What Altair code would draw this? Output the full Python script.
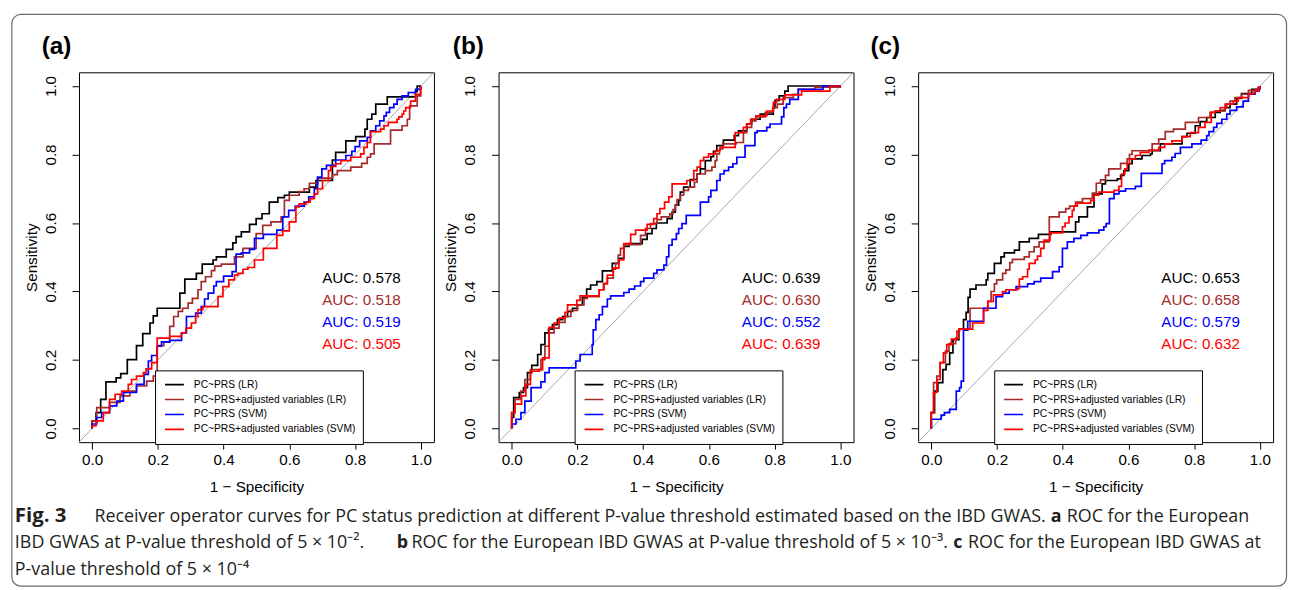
import altair as alt
import pandas as pd

# ---------------- data ----------------
SERIES = ["PC~PRS (LR)", "PC~PRS+adjusted variables (LR)",
          "PC~PRS (SVM)", "PC~PRS+adjusted variables (SVM)"]
COLORS = ["#000000", "#A52A2A", "#0000FF", "#FF0000"]

# ROC step corners: (1 - specificity, sensitivity)
A_LR = [(0, 0), (0, .022), (.012, .046), (.026, .085), (.042, .136), (.073, .148), (.087, .160), (.107, .201),
        (.135, .242), (.154, .277), (.176, .308), (.186, .329), (.198, .351), (.267, .395), (.282, .436),
        (.317, .453), (.335, .480), (.368, .492), (.378, .501), (.408, .523), (.428, .542), (.438, .560),
        (.454, .574), (.479, .596), (.499, .613), (.517, .627), (.539, .661), (.565, .674), (.585, .681),
        (.600, .690), (.661, .705), (.681, .724), (.731, .784), (.741, .806), (.772, .840), (.802, .852),
        (.830, .874), (.837, .903), (.851, .918), (.863, .947), (.898, .968), (.984, .984), (.989, 1.0), (1.0, 1.0)]
A_LR_ADJ = [(0, 0), (0, .022), (.014, .061), (.053, .076), (.085, .095), (.115, .109), (.135, .124), (.166, .138),
            (.186, .153), (.198, .242), (.218, .252), (.236, .298), (.248, .327), (.262, .342), (.275, .351),
            (.292, .366), (.305, .380), (.322, .405), (.332, .429), (.345, .443), (.363, .461), (.373, .474),
            (.393, .480), (.433, .501), (.459, .526), (.499, .569), (.519, .593), (.544, .603), (.575, .618),
            (.585, .666), (.600, .681), (.630, .692), (.645, .700), (.661, .716), (.686, .731), (.731, .741),
            (.746, .753), (.787, .763), (.820, .774), (.837, .792), (.847, .802), (.858, .831), (.908, .871),
            (.943, .884), (.959, .903), (.966, .942), (.989, .971), (1.0, 1.0)]
A_SVM = [(0, 0), (0, .013), (.014, .032), (.029, .046), (.053, .066), (.075, .080), (.095, .105), (.135, .129),
         (.158, .158), (.171, .197), (.181, .213), (.198, .240), (.211, .253), (.236, .257), (.272, .279),
         (.287, .327), (.315, .337), (.332, .356), (.342, .378), (.353, .395), (.370, .416), (.378, .429),
         (.400, .445), (.426, .458), (.438, .509), (.454, .513), (.479, .523), (.494, .555), (.521, .567),
         (.562, .579), (.580, .618), (.598, .637), (.618, .649), (.645, .661), (.659, .676), (.676, .700),
         (.686, .734), (.699, .758), (.713, .768), (.741, .784), (.772, .797), (.790, .809), (.800, .823),
         (.814, .840), (.837, .850), (.847, .869), (.863, .884), (.875, .898), (.888, .913), (.895, .923),
         (.905, .937), (.918, .947), (.928, .961), (.943, .971), (.962, .981), (.984, .990), (.999, 1.0), (1.0, 1.0)]
A_SVM_ADJ = [(0, 0), (0, .008), (.012, .022), (.034, .046), (.053, .085), (.070, .100), (.090, .109), (.110, .129),
             (.120, .143), (.135, .153), (.156, .163), (.164, .174), (.181, .192), (.198, .264), (.236, .269),
             (.272, .279), (.285, .293), (.302, .308), (.315, .327), (.322, .347), (.337, .356), (.383, .385),
             (.398, .414), (.416, .434), (.433, .448), (.443, .453), (.459, .465), (.474, .470), (.494, .492),
             (.521, .526), (.562, .564), (.580, .577), (.600, .603), (.620, .647), (.630, .656), (.651, .661),
             (.663, .671), (.676, .685), (.686, .700), (.701, .724), (.719, .753), (.726, .765), (.741, .773),
             (.757, .782), (.787, .792), (.817, .802), (.827, .821), (.837, .835), (.847, .867), (.878, .874),
             (.888, .884), (.901, .894), (.928, .903), (.933, .910), (.943, .918), (.948, .927), (.954, .937),
             (.969, .956), (.984, .976), (.999, .995), (1.0, 1.0)]

B_LR = [(0, 0), (0, .032), (.006, .090), (.023, .105), (.036, .119), (.048, .163), (.061, .184), (.079, .216),
        (.089, .245), (.101, .279), (.112, .290), (.124, .303), (.139, .318), (.155, .327), (.170, .342),
        (.185, .351), (.200, .361), (.215, .383), (.228, .407), (.240, .419), (.259, .429), (.276, .460),
        (.306, .482), (.326, .497), (.341, .532), (.357, .540), (.397, .552), (.412, .569), (.427, .584),
        (.440, .600), (.473, .613), (.488, .632), (.498, .652), (.508, .666), (.513, .690), (.523, .705),
        (.543, .727), (.564, .743), (.574, .758), (.589, .782), (.606, .794), (.614, .809), (.624, .826),
        (.644, .842), (.677, .855), (.690, .869), (.715, .889), (.730, .903), (.756, .918), (.796, .937),
        (.801, .958), (.814, .971), (.831, .985), (.841, 1.0), (1.0, 1.0)]
B_LR_ADJ = [(0, 0), (0, .046), (.010, .085), (.028, .109), (.040, .143), (.057, .172), (.089, .201), (.101, .240),
            (.114, .279), (.129, .293), (.144, .310), (.162, .327), (.180, .345), (.200, .361), (.220, .380),
            (.230, .385), (.266, .405), (.279, .422), (.291, .439), (.309, .465), (.316, .482), (.324, .506),
            (.331, .526), (.341, .537), (.392, .564), (.407, .584), (.422, .598), (.442, .610), (.455, .618),
            (.481, .627), (.491, .639), (.498, .652), (.503, .668), (.513, .681), (.523, .695), (.538, .705),
            (.556, .719), (.564, .743), (.589, .753), (.609, .763), (.619, .782), (.624, .802), (.632, .816),
            (.642, .831), (.683, .835), (.705, .864), (.715, .879), (.730, .898), (.743, .910), (.771, .923),
            (.794, .937), (.808, .947), (.826, .966), (.857, .976), (.872, .990), (.922, .997), (1.0, 1.0)]
B_SVM = [(0, 0), (0, .013), (.013, .027), (.028, .046), (.040, .080), (.059, .119), (.089, .136), (.101, .163),
         (.114, .177), (.195, .197), (.208, .216), (.245, .245), (.248, .288), (.256, .318), (.266, .332),
         (.276, .356), (.291, .378), (.301, .387), (.341, .397), (.357, .407), (.374, .416), (.392, .429),
         (.402, .439), (.432, .453), (.442, .463), (.463, .477), (.471, .501), (.478, .535), (.488, .552),
         (.501, .569), (.508, .584), (.518, .598), (.531, .622), (.574, .661), (.599, .676), (.606, .695),
         (.624, .724), (.634, .743), (.646, .753), (.660, .763), (.673, .773), (.685, .792), (.710, .826),
         (.740, .864), (.747, .869), (.776, .879), (.786, .889), (.821, .910), (.828, .937), (.836, .947),
         (.846, .961), (.872, .990), (.947, 1.0), (1.0, 1.0)]
B_SVM_ADJ = [(0, 0), (0, .046), (.010, .071), (.030, .095), (.043, .129), (.057, .167), (.084, .172), (.094, .206),
             (.114, .295), (.129, .308), (.144, .322), (.162, .339), (.170, .361), (.198, .374), (.208, .387),
             (.266, .405), (.281, .424), (.291, .448), (.309, .468), (.326, .492), (.341, .540), (.362, .567),
             (.377, .579), (.412, .596), (.432, .613), (.442, .627), (.451, .642), (.465, .661), (.478, .676),
             (.488, .714), (.533, .724), (.554, .753), (.564, .763), (.574, .782), (.584, .792), (.599, .802),
             (.619, .811), (.634, .821), (.680, .864), (.705, .879), (.715, .889), (.727, .903), (.743, .913),
             (.776, .927), (.796, .952), (.806, .961), (.831, .974), (.882, .985), (.968, 1.0), (1.0, 1.0)]

C_LR = [(0, 0), (0, .046), (.010, .109), (.020, .134), (.035, .172), (.045, .187), (.056, .221), (.066, .259),
        (.084, .290), (.098, .318), (.106, .339), (.112, .383), (.118, .407), (.136, .419), (.167, .434),
        (.172, .453), (.192, .482), (.212, .501), (.222, .513), (.253, .521), (.268, .545), (.298, .555),
        (.326, .567), (.364, .574), (.439, .603), (.449, .618), (.475, .647), (.495, .685), (.520, .714),
        (.530, .724), (.566, .729), (.576, .739), (.586, .753), (.601, .773), (.611, .787), (.641, .797),
        (.667, .802), (.672, .811), (.697, .831), (.763, .852), (.778, .862), (.803, .884), (.818, .896),
        (.838, .908), (.864, .923), (.879, .929), (.894, .937), (.909, .947), (.929, .964), (.944, .978),
        (.975, .990), (.995, .995), (1.0, 1.0)]
C_LR_ADJ = [(0, 0), (0, .046), (.007, .134), (.017, .153), (.027, .192), (.043, .226), (.054, .248), (.074, .264),
            (.084, .290), (.118, .351), (.172, .371), (.182, .400), (.192, .422), (.199, .434), (.217, .453),
            (.227, .463), (.239, .484), (.247, .494), (.283, .501), (.298, .516), (.313, .530), (.328, .545),
            (.359, .618), (.389, .632), (.409, .642), (.421, .649), (.439, .661), (.460, .671), (.490, .687),
            (.502, .716), (.515, .726), (.530, .739), (.540, .758), (.576, .774), (.596, .787), (.603, .800),
            (.611, .811), (.672, .831), (.692, .845), (.712, .867), (.737, .874), (.773, .894), (.813, .908),
            (.848, .923), (.864, .927), (.894, .947), (.909, .956), (.924, .966), (.944, .976), (.965, .987),
            (.985, .990), (1.0, 1.0)]
C_SVM = [(0, 0), (0, .027), (.030, .039), (.040, .046), (.056, .056), (.076, .109), (.086, .119), (.091, .138),
         (.098, .287), (.111, .313), (.159, .351), (.197, .385), (.217, .395), (.237, .405), (.258, .414),
         (.293, .422), (.313, .429), (.333, .439), (.369, .458), (.389, .472), (.399, .526), (.414, .545),
         (.434, .555), (.455, .564), (.475, .571), (.510, .579), (.525, .589), (.532, .598), (.542, .671),
         (.556, .685), (.571, .693), (.591, .700), (.621, .707), (.639, .745), (.702, .773), (.710, .782),
         (.732, .792), (.742, .803), (.758, .821), (.793, .831), (.821, .842), (.838, .855), (.845, .867),
         (.859, .879), (.869, .891), (.884, .903), (.899, .918), (.909, .929), (.929, .939), (.949, .956),
         (.965, .976), (.985, .985), (.997, .997), (1.0, 1.0)]
C_SVM_ADJ = [(0, 0), (0, .046), (.007, .105), (.017, .143), (.027, .192), (.037, .221), (.047, .245), (.061, .261),
             (.078, .284), (.086, .290), (.126, .308), (.159, .345), (.172, .371), (.189, .390), (.217, .400),
             (.227, .405), (.263, .409), (.268, .436), (.278, .443), (.293, .465), (.298, .482), (.316, .492),
             (.323, .503), (.333, .526), (.343, .550), (.361, .571), (.399, .589), (.407, .600), (.419, .618),
             (.429, .637), (.434, .649), (.444, .658), (.485, .666), (.495, .681), (.510, .690), (.556, .695),
             (.571, .707), (.579, .743), (.589, .758), (.596, .773), (.603, .787), (.621, .797), (.636, .806),
             (.662, .813), (.692, .821), (.710, .831), (.732, .840), (.763, .852), (.788, .864), (.813, .879),
             (.833, .894), (.852, .923), (.864, .927), (.879, .937), (.899, .947), (.919, .956), (.934, .966),
             (.965, .978), (.983, .985), (.995, .995), (1.0, 1.0)]

AUC_A = ["0.578", "0.518", "0.519", "0.505"]
AUC_B = ["0.639", "0.630", "0.552", "0.639"]
AUC_C = ["0.653", "0.658", "0.579", "0.632"]
AUC_X = 0.70
AUC_Y = [0.44, 0.375, 0.31, 0.246]
TICKS = [0.0, 0.2, 0.4, 0.6, 0.8, 1.0]
DIAG = [-0.04, 1.04]
PANEL_LABELS = ["(a)", "(b)", "(c)"]

CAPTION = [  # (text, bold, font size, x offset, y offset) relative to panel (a) plot origin
    ("Fig. 3", True, 20.5, -64.5, 446.3),
    ("Receiver operator curves for PC status prediction at different P-value threshold estimated based on the IBD GWAS.", False, 18, 15.5, 446.8),
    ("a", True, 18, 977.5, 446.8),
    ("ROC for the European", False, 18, 993.5, 446.8),
    ("IBD GWAS at P-value threshold of 5 \u00d7 10\u207b\u00b2.", False, 18, -64.5, 473.8),
    ("b", True, 18, 319.5, 473.8),
    ("ROC for the European IBD GWAS at P-value threshold of 5 \u00d7 10\u207b\u00b3.", False, 18, 334.5, 473.8),
    ("c", True, 18, 879.2, 473.8),
    ("ROC for the European IBD GWAS at", False, 18, 894.2, 473.8),
    ("P-value threshold of 5 \u00d7 10\u207b\u2074", False, 18, -64.5, 500.3),
]

# ---------------- chart ----------------
W, H = 357, 372
RFONT = "Liberation Sans"
xs = alt.Scale(domain=DIAG, nice=False, zero=False)
ys = alt.Scale(domain=DIAG, nice=False, zero=False)

xaxis = alt.Axis(values=TICKS, format=".1f", title="1 \u2212 Specificity", grid=False, domain=False,
                 tickSize=7, tickColor="black", tickWidth=1, labelFont=RFONT, labelFontSize=15.3,
                 labelColor="black", labelPadding=3, labelFlush=False, labelOverlap=False,
                 titleFont=RFONT, titleFontSize=15.3, titleFontWeight="normal", titleColor="black",
                 titlePadding=12)
yaxis = alt.Axis(values=TICKS, format=".1f", title="Sensitivity", grid=False, domain=False,
                 tickSize=7, tickColor="black", tickWidth=1, labelFont=RFONT, labelFontSize=15.3,
                 labelColor="black", labelPadding=14, labelFlush=False, labelOverlap=False, labelAngle=270,
                 titleFont=RFONT, titleFontSize=15.3, titleFontWeight="normal", titleColor="black",
                 titlePadding=4)

legend = alt.Legend(orient="none", legendX=76.5, legendY=299.8, title=None, direction="vertical",
                    symbolType="stroke", symbolStrokeWidth=1.6, symbolSize=361,
                    labelFont=RFONT, labelFontSize=10.3, labelColor="black", labelLimit=500,
                    strokeColor="black", fillColor="white", padding=7, rowPadding=0,
                    clipHeight=14.7, labelOffset=9, symbolOffset=2, cornerRadius=0)
color_scale = alt.Scale(domain=SERIES, range=COLORS)


def panel(curves, aucs, label, label_dx, extra=()):
    layers = []
    diag_df = pd.DataFrame({"x": DIAG, "y": DIAG})
    layers.append(alt.Chart(diag_df).mark_line(color="#A8A8A8", strokeWidth=1).encode(
        x=alt.X("x:Q", scale=xs, axis=xaxis), y=alt.Y("y:Q", scale=ys, axis=yaxis)))
    for name, pts in zip(SERIES, curves):
        df = pd.DataFrame(pts, columns=["x", "y"])
        df["series"] = name
        df["i"] = range(len(df))
        layers.append(alt.Chart(df).mark_line(interpolate="step-after", strokeWidth=1.7).encode(
            x=alt.X("x:Q", scale=xs, axis=xaxis), y=alt.Y("y:Q", scale=ys, axis=yaxis),
            color=alt.Color("series:N", scale=color_scale, legend=legend),
            order=alt.Order("i:Q")))
    auc_df = pd.DataFrame({"x": [AUC_X] * 4, "y": AUC_Y,
                           "t": ["AUC: " + a for a in aucs], "c": COLORS})
    layers.append(alt.Chart(auc_df).mark_text(align="left", baseline="middle", font=RFONT,
                                              fontSize=15.3).encode(
        x=alt.X("x:Q", scale=xs, axis=xaxis), y=alt.Y("y:Q", scale=ys, axis=yaxis),
        text="t:N", fill=alt.Fill("c:N", scale=None)))
    lab_df = pd.DataFrame({"t": [label]})
    layers.append(alt.Chart(lab_df).mark_text(align="left", baseline="middle", font=RFONT,
                                              fontSize=24.5, fontWeight="bold", color="black").encode(
        x=alt.value(label_dx), y=alt.value(-25.2), text="t:N"))
    layers.extend(extra)
    return alt.layer(*layers).properties(width=W, height=H)


one = pd.DataFrame({"k": [0]})
extras = [alt.Chart(one).mark_rect(fillOpacity=0, stroke="#6e6e6e", strokeWidth=1.2, cornerRadius=9).encode(
    x=alt.value(-67.5), x2=alt.value(1214.5), y=alt.value(-58.2), y2=alt.value(516.8))]
for text, bold, size, dx, dy in CAPTION:
    extras.append(alt.Chart(one).mark_text(align="left", baseline="middle", font="Open Sans", fontSize=size,
                                           fontWeight=("bold" if bold else "normal"),
                                           color="#231f20").encode(
        x=alt.value(dx), y=alt.value(dy), text=alt.value(text)))

pa = panel([A_LR, A_LR_ADJ, A_SVM, A_SVM_ADJ], AUC_A, PANEL_LABELS[0], -37.5, extras)
pb = panel([B_LR, B_LR_ADJ, B_SVM, B_SVM_ADJ], AUC_B, PANEL_LABELS[1], -46.0)
pc = panel([C_LR, C_LR_ADJ, C_SVM, C_SVM_ADJ], AUC_C, PANEL_LABELS[2], -48.0)

chart = alt.hconcat(pa, pb, pc, spacing=65, bounds="flush").resolve_scale(
    color="independent", x="independent", y="independent").resolve_legend(color="independent").properties(
    padding={"left": 2.4, "top": 3.0, "right": 0, "bottom": 0},
    autosize=alt.AutoSizeParams(type="pad"),
).configure_view(stroke="black", strokeWidth=1)

chart.save("out.html", embed_options={"renderer": "svg", "actions": False})
